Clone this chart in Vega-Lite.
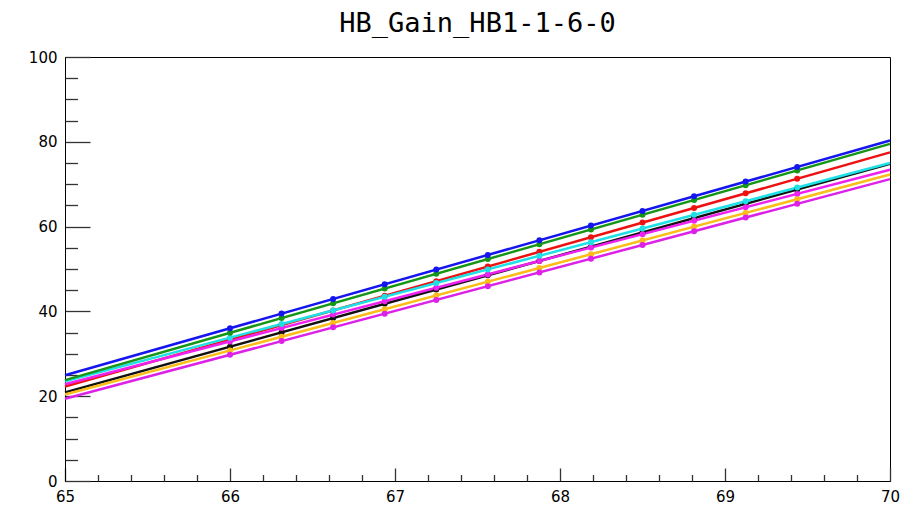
{
  "$schema": "https://vega.github.io/schema/vega-lite/v6.json",
  "width": 825,
  "height": 424,
  "autosize": {"type": "none"},
  "padding": {"left": 65, "top": 57, "right": 34, "bottom": 34},
  "background": "#ffffff",
  "title": {
    "text": "HB_Gain_HB1-1-6-0",
    "font": "DejaVu Sans Mono",
    "fontSize": 27,
    "fontWeight": "normal",
    "color": "#000000",
    "anchor": "middle",
    "offset": 12
  },
  "config": {
    "view": {"stroke": "#000000", "strokeWidth": 1},
    "axis": {
      "grid": false,
      "labelFont": "DejaVu Sans",
      "labelFontSize": 15,
      "labelColor": "#000000",
      "domainColor": "#000000",
      "tickColor": "#333333",
      "tickWidth": 1.3,
      "title": null
    }
  },
  "datasets": {
    "fits": [
      {"ch": "ch7", "x0": 65, "y0": 20.9, "x1": 70, "y1": 74.8},
      {"ch": "ch3", "x0": 65, "y0": 22.3, "x1": 70, "y1": 77.5},
      {"ch": "ch5", "x0": 65, "y0": 22.8, "x1": 70, "y1": 73.4},
      {"ch": "ch4", "x0": 65, "y0": 23.5, "x1": 70, "y1": 75.0},
      {"ch": "ch2", "x0": 65, "y0": 23.8, "x1": 70, "y1": 79.5},
      {"ch": "ch1", "x0": 65, "y0": 24.95, "x1": 70, "y1": 80.3},
      {"ch": "ch6", "x0": 65, "y0": 20.4, "x1": 70, "y1": 72.3},
      {"ch": "ch8", "x0": 65, "y0": 19.4, "x1": 70, "y1": 71.2}
    ],
    "points": [
      {"ch": "ch7", "bv": 66, "gain": 31.68}, {"ch": "ch7", "bv": 66.3125, "gain": 35.05}, {"ch": "ch7", "bv": 66.625, "gain": 38.42}, {"ch": "ch7", "bv": 66.9375, "gain": 41.79}, {"ch": "ch7", "bv": 67.25, "gain": 45.16}, {"ch": "ch7", "bv": 67.5625, "gain": 48.52}, {"ch": "ch7", "bv": 67.875, "gain": 51.89}, {"ch": "ch7", "bv": 68.1875, "gain": 55.26}, {"ch": "ch7", "bv": 68.5, "gain": 58.63}, {"ch": "ch7", "bv": 68.8125, "gain": 62.0}, {"ch": "ch7", "bv": 69.125, "gain": 65.37}, {"ch": "ch7", "bv": 69.4375, "gain": 68.74},
      {"ch": "ch3", "bv": 66, "gain": 33.34}, {"ch": "ch3", "bv": 66.3125, "gain": 36.79}, {"ch": "ch3", "bv": 66.625, "gain": 40.24}, {"ch": "ch3", "bv": 66.9375, "gain": 43.69}, {"ch": "ch3", "bv": 67.25, "gain": 47.14}, {"ch": "ch3", "bv": 67.5625, "gain": 50.59}, {"ch": "ch3", "bv": 67.875, "gain": 54.04}, {"ch": "ch3", "bv": 68.1875, "gain": 57.49}, {"ch": "ch3", "bv": 68.5, "gain": 60.94}, {"ch": "ch3", "bv": 68.8125, "gain": 64.39}, {"ch": "ch3", "bv": 69.125, "gain": 67.84}, {"ch": "ch3", "bv": 69.4375, "gain": 71.29},
      {"ch": "ch5", "bv": 66, "gain": 32.92}, {"ch": "ch5", "bv": 66.3125, "gain": 36.08}, {"ch": "ch5", "bv": 66.625, "gain": 39.25}, {"ch": "ch5", "bv": 66.9375, "gain": 42.41}, {"ch": "ch5", "bv": 67.25, "gain": 45.57}, {"ch": "ch5", "bv": 67.5625, "gain": 48.73}, {"ch": "ch5", "bv": 67.875, "gain": 51.9}, {"ch": "ch5", "bv": 68.1875, "gain": 55.06}, {"ch": "ch5", "bv": 68.5, "gain": 58.22}, {"ch": "ch5", "bv": 68.8125, "gain": 61.38}, {"ch": "ch5", "bv": 69.125, "gain": 64.55}, {"ch": "ch5", "bv": 69.4375, "gain": 67.71},
      {"ch": "ch4", "bv": 66, "gain": 33.8}, {"ch": "ch4", "bv": 66.3125, "gain": 37.02}, {"ch": "ch4", "bv": 66.625, "gain": 40.24}, {"ch": "ch4", "bv": 66.9375, "gain": 43.46}, {"ch": "ch4", "bv": 67.25, "gain": 46.68}, {"ch": "ch4", "bv": 67.5625, "gain": 49.89}, {"ch": "ch4", "bv": 67.875, "gain": 53.11}, {"ch": "ch4", "bv": 68.1875, "gain": 56.33}, {"ch": "ch4", "bv": 68.5, "gain": 59.55}, {"ch": "ch4", "bv": 68.8125, "gain": 62.77}, {"ch": "ch4", "bv": 69.125, "gain": 65.99}, {"ch": "ch4", "bv": 69.4375, "gain": 69.21},
      {"ch": "ch2", "bv": 66, "gain": 34.94}, {"ch": "ch2", "bv": 66.3125, "gain": 38.42}, {"ch": "ch2", "bv": 66.625, "gain": 41.9}, {"ch": "ch2", "bv": 66.9375, "gain": 45.38}, {"ch": "ch2", "bv": 67.25, "gain": 48.87}, {"ch": "ch2", "bv": 67.5625, "gain": 52.35}, {"ch": "ch2", "bv": 67.875, "gain": 55.83}, {"ch": "ch2", "bv": 68.1875, "gain": 59.31}, {"ch": "ch2", "bv": 68.5, "gain": 62.79}, {"ch": "ch2", "bv": 68.8125, "gain": 66.27}, {"ch": "ch2", "bv": 69.125, "gain": 69.75}, {"ch": "ch2", "bv": 69.4375, "gain": 73.23},
      {"ch": "ch1", "bv": 66, "gain": 36.02}, {"ch": "ch1", "bv": 66.3125, "gain": 39.48}, {"ch": "ch1", "bv": 66.625, "gain": 42.94}, {"ch": "ch1", "bv": 66.9375, "gain": 46.4}, {"ch": "ch1", "bv": 67.25, "gain": 49.86}, {"ch": "ch1", "bv": 67.5625, "gain": 53.32}, {"ch": "ch1", "bv": 67.875, "gain": 56.78}, {"ch": "ch1", "bv": 68.1875, "gain": 60.24}, {"ch": "ch1", "bv": 68.5, "gain": 63.7}, {"ch": "ch1", "bv": 68.8125, "gain": 67.15}, {"ch": "ch1", "bv": 69.125, "gain": 70.61}, {"ch": "ch1", "bv": 69.4375, "gain": 74.07},
      {"ch": "ch6", "bv": 66, "gain": 30.78}, {"ch": "ch6", "bv": 66.3125, "gain": 34.02}, {"ch": "ch6", "bv": 66.625, "gain": 37.27}, {"ch": "ch6", "bv": 66.9375, "gain": 40.51}, {"ch": "ch6", "bv": 67.25, "gain": 43.76}, {"ch": "ch6", "bv": 67.5625, "gain": 47.0}, {"ch": "ch6", "bv": 67.875, "gain": 50.24}, {"ch": "ch6", "bv": 68.1875, "gain": 53.49}, {"ch": "ch6", "bv": 68.5, "gain": 56.73}, {"ch": "ch6", "bv": 68.8125, "gain": 59.97}, {"ch": "ch6", "bv": 69.125, "gain": 63.22}, {"ch": "ch6", "bv": 69.4375, "gain": 66.46},
      {"ch": "ch8", "bv": 66, "gain": 29.76}, {"ch": "ch8", "bv": 66.3125, "gain": 33.0}, {"ch": "ch8", "bv": 66.625, "gain": 36.24}, {"ch": "ch8", "bv": 66.9375, "gain": 39.47}, {"ch": "ch8", "bv": 67.25, "gain": 42.71}, {"ch": "ch8", "bv": 67.5625, "gain": 45.95}, {"ch": "ch8", "bv": 67.875, "gain": 49.19}, {"ch": "ch8", "bv": 68.1875, "gain": 52.42}, {"ch": "ch8", "bv": 68.5, "gain": 55.66}, {"ch": "ch8", "bv": 68.8125, "gain": 58.9}, {"ch": "ch8", "bv": 69.125, "gain": 62.14}, {"ch": "ch8", "bv": 69.4375, "gain": 65.37}
    ]
  },
  "resolve": {"axis": {"x": "independent", "y": "independent"}},
  "layer": [
    {
      "description": "linear fit per channel across the bias-voltage range",
      "data": {"name": "fits"},
      "mark": {"type": "rule", "strokeWidth": 2.5},
      "encoding": {
        "x": {
          "field": "x0", "type": "quantitative",
          "scale": {"domain": [65, 70], "nice": false, "zero": false},
          "axis": {"orient": "bottom", "values": [65, 66, 67, 68, 69, 70], "tickSize": -13, "labelPadding": 21, "format": "d", "labelFlush": false}
        },
        "x2": {"field": "x1"},
        "y": {
          "field": "y0", "type": "quantitative",
          "scale": {"domain": [0, 100], "nice": false},
          "axis": {"orient": "left", "values": [0, 20, 40, 60, 80, 100], "tickSize": -25, "labelPadding": 33, "format": "d"}
        },
        "y2": {"field": "y1"},
        "color": {
          "field": "ch", "type": "nominal", "legend": null,
          "scale": {
            "domain": ["ch1", "ch2", "ch3", "ch4", "ch5", "ch6", "ch7", "ch8"],
            "range": ["#1515ee", "#169616", "#ee1111", "#1ee0e6", "#ee22ee", "#fbbd1a", "#111111", "#dd22e8"]
          }
        }
      }
    },
    {
      "description": "measured gain points",
      "data": {"name": "points"},
      "mark": {"type": "point", "filled": true, "size": 36, "opacity": 1},
      "encoding": {
        "x": {
          "field": "bv", "type": "quantitative",
          "scale": {"domain": [65, 70], "nice": false, "zero": false},
          "axis": {"orient": "bottom", "values": [65.2, 65.4, 65.6, 65.8, 66.2, 66.4, 66.6, 66.8, 67.2, 67.4, 67.6, 67.8, 68.2, 68.4, 68.6, 68.8, 69.2, 69.4, 69.6, 69.8], "tickSize": -6.5, "labels": false, "domain": false}
        },
        "y": {
          "field": "gain", "type": "quantitative",
          "scale": {"domain": [0, 100], "nice": false},
          "axis": {"orient": "left", "values": [5, 10, 15, 25, 30, 35, 45, 50, 55, 65, 70, 75, 85, 90, 95], "tickSize": -12.5, "labels": false, "domain": false}
        },
        "color": {"field": "ch", "type": "nominal", "legend": null}
      }
    }
  ]
}
